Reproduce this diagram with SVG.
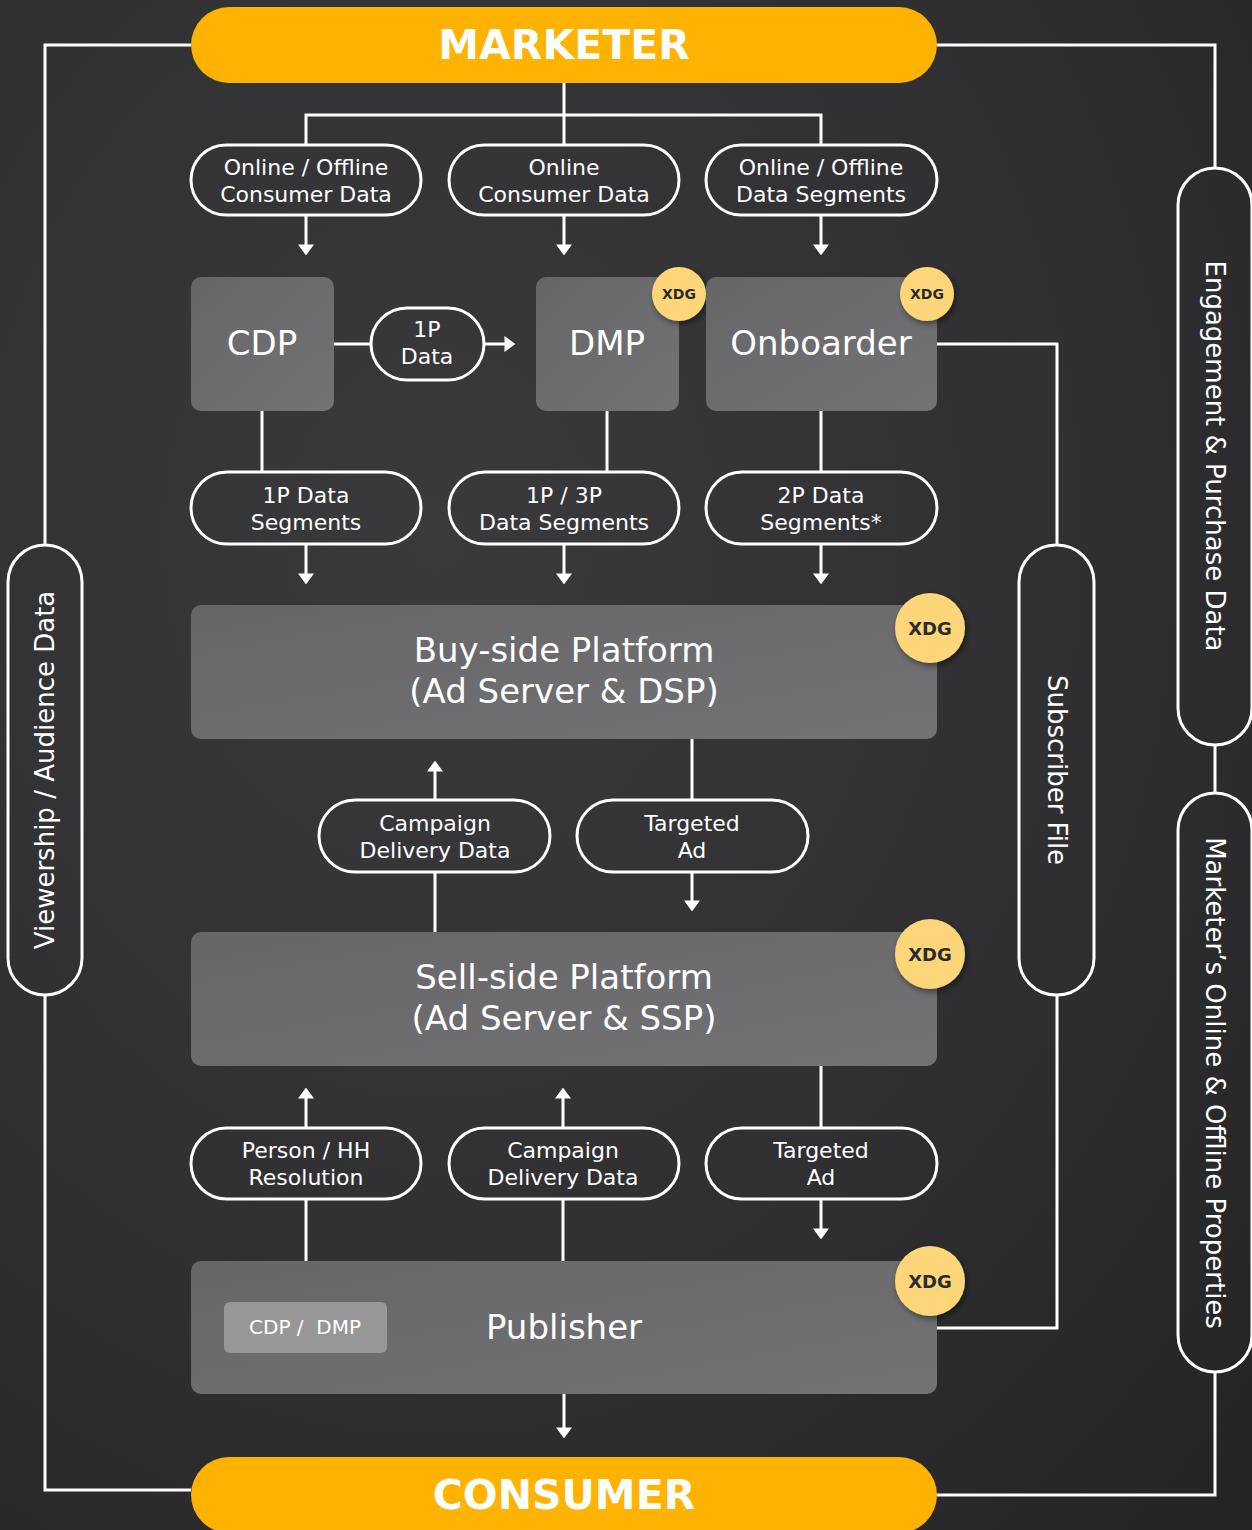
<svg xmlns="http://www.w3.org/2000/svg" width="1252" height="1530" viewBox="0 0 1252 1530">
<defs>
<radialGradient id="bg" cx="0.35" cy="0.35" r="0.9">
<stop offset="0" stop-color="#3a3a3c"/>
<stop offset="0.6" stop-color="#2f2f31"/>
<stop offset="1" stop-color="#242425"/>
</radialGradient>
<linearGradient id="box" x1="0" y1="0" x2="1" y2="1">
<stop offset="0" stop-color="#666668"/>
<stop offset="1" stop-color="#737375"/>
</linearGradient>
<filter id="sh" x="-30%" y="-30%" width="160%" height="160%">
<feDropShadow dx="2" dy="3" stdDeviation="3" flood-color="#000" flood-opacity="0.45"/>
</filter>
<marker id="ah" viewBox="0 0 10 10" refX="0.5" refY="5" markerWidth="11" markerHeight="16" markerUnits="userSpaceOnUse" orient="auto" preserveAspectRatio="none">
<path d="M0,0 L10,5 L0,10 z" fill="#ffffff"/>
</marker>
<style>
.ln{stroke:#ffffff;stroke-width:3;fill:none}
.ar{stroke:#ffffff;stroke-width:3;fill:none;marker-end:url(#ah)}
.pill{fill:none;stroke:#ffffff;stroke-width:3}
.box{fill:url(#box)}
.t{font-family:"DejaVu Sans","Liberation Sans",sans-serif;fill:#ffffff;text-anchor:middle}
.pt{font-size:22px}
.bt{font-size:34px}
.vt{font-size:26px}
.hd{font-family:"DejaVu Sans","Liberation Sans",sans-serif;font-weight:700;font-size:41px;fill:#ffffff;text-anchor:middle}
.xdg{fill:#fed67a;filter:url(#sh)}
.xt{font-family:"DejaVu Sans","Liberation Sans",sans-serif;font-weight:700;fill:#2b2b2b;text-anchor:middle}
.yl{fill:#feb201}
</style>
</defs>
<rect x="0" y="0" width="1252" height="1530" fill="url(#bg)"/>

<g id="connectors">
<path class="ln" d="M191,45 H45 V545"/>
<path class="ln" d="M45,995 V1490 H191"/>
<path class="ln" d="M937,45 H1215 V168"/>
<path class="ln" d="M1215,745 V793"/>
<path class="ln" d="M1215,1372 V1495 H937"/>
<path class="ln" d="M937,344 H1057 V545"/>
<path class="ln" d="M1057,995 V1328 H937"/>
<path class="ln" d="M564,83 V145"/>
<path class="ln" d="M306,145 V115 H821 V145"/>
<path class="ar" d="M306,215 V245"/>
<path class="ar" d="M564,215 V245"/>
<path class="ar" d="M821,215 V245"/>
<path class="ln" d="M334,344 H371"/>
<path class="ar" d="M484,344 H505"/>
<path class="ln" d="M262,411 V472"/>
<path class="ln" d="M607,411 V472"/>
<path class="ln" d="M821,411 V472"/>
<path class="ar" d="M306,544 V574"/>
<path class="ar" d="M564,544 V574"/>
<path class="ar" d="M821,544 V574"/>
<path class="ln" d="M435,932 V872"/>
<path class="ar" d="M435,800 V771"/>
<path class="ln" d="M692,739 V800"/>
<path class="ar" d="M692,872 V901"/>
<path class="ln" d="M306,1261 V1199"/>
<path class="ar" d="M306,1128 V1098"/>
<path class="ln" d="M563,1261 V1199"/>
<path class="ar" d="M563,1128 V1098"/>
<path class="ln" d="M821,1066 V1128"/>
<path class="ar" d="M821,1199 V1229"/>
<path class="ar" d="M564,1394 V1428"/>
</g>

<g id="marketer">
<rect class="yl" x="191" y="7" width="746" height="76" rx="38"/>
<text class="hd" x="564" y="59">MARKETER</text>
</g>
<g id="consumer">
<rect class="yl" x="191" y="1457" width="746" height="76" rx="38"/>
<text class="hd" x="564" y="1509">CONSUMER</text>
</g>

<g id="viewership">
<rect class="pill" x="8" y="545" width="74" height="450" rx="37"/>
<text class="t vt" transform="translate(54,770) rotate(-90)">Viewership / Audience Data</text>
</g>
<g id="engagement">
<rect class="pill" x="1178" y="168" width="74" height="577" rx="37"/>
<text class="t vt" transform="translate(1206,456) rotate(90)">Engagement &amp; Purchase Data</text>
</g>
<g id="properties">
<rect class="pill" x="1178" y="793" width="74" height="579" rx="37"/>
<text class="t vt" transform="translate(1206,1083) rotate(90)">Marketer’s Online &amp; Offline Properties</text>
</g>
<g id="subscriber">
<rect class="pill" x="1019" y="545" width="75" height="450" rx="37"/>
<text class="t vt" transform="translate(1048,770) rotate(90)">Subscriber File</text>
</g>

<g id="p-onoff-consumer">
<rect class="pill" x="191" y="145" width="230" height="70" rx="35"/>
<text class="t pt" x="306" y="175">Online / Offline</text>
<text class="t pt" x="306" y="202">Consumer Data</text>
</g>
<g id="p-online-consumer">
<rect class="pill" x="449" y="145" width="230" height="70" rx="35"/>
<text class="t pt" x="564" y="175">Online</text>
<text class="t pt" x="564" y="202">Consumer Data</text>
</g>
<g id="p-onoff-segments">
<rect class="pill" x="706" y="145" width="231" height="70" rx="35"/>
<text class="t pt" x="821" y="175">Online / Offline</text>
<text class="t pt" x="821" y="202">Data Segments</text>
</g>

<g id="cdp">
<rect class="box" x="191" y="277" width="143" height="134" rx="10"/>
<text class="t bt" x="262" y="355">CDP</text>
</g>
<g id="p-1p-data">
<rect class="pill" x="371" y="308" width="113" height="72" rx="36"/>
<text class="t pt" x="427" y="337">1P</text>
<text class="t pt" x="427" y="364">Data</text>
</g>
<g id="dmp">
<rect class="box" x="536" y="277" width="143" height="134" rx="10"/>
<text class="t bt" x="607" y="355">DMP</text>
<circle class="xdg" cx="679" cy="294" r="27"/>
<text class="xt" x="679" y="299" font-size="14">XDG</text>
</g>
<g id="onboarder">
<rect class="box" x="706" y="277" width="231" height="134" rx="10"/>
<text class="t bt" x="821" y="355">Onboarder</text>
<circle class="xdg" cx="927" cy="294" r="27"/>
<text class="xt" x="927" y="299" font-size="14">XDG</text>
</g>

<g id="p-1p-segments">
<rect class="pill" x="191" y="472" width="230" height="72" rx="36"/>
<text class="t pt" x="306" y="503">1P Data</text>
<text class="t pt" x="306" y="530">Segments</text>
</g>
<g id="p-1p3p-segments">
<rect class="pill" x="449" y="472" width="230" height="72" rx="36"/>
<text class="t pt" x="564" y="503">1P / 3P</text>
<text class="t pt" x="564" y="530">Data Segments</text>
</g>
<g id="p-2p-segments">
<rect class="pill" x="706" y="472" width="231" height="72" rx="36"/>
<text class="t pt" x="821" y="503">2P Data</text>
<text class="t pt" x="821" y="530">Segments*</text>
</g>

<g id="buyside">
<rect class="box" x="191" y="605" width="746" height="134" rx="10"/>
<text class="t bt" x="564" y="662">Buy-side Platform</text>
<text class="t bt" x="564" y="703">(Ad Server &amp; DSP)</text>
<circle class="xdg" cx="930" cy="628" r="35"/>
<text class="xt" x="930" y="635" font-size="18">XDG</text>
</g>

<g id="p-campaign-1">
<rect class="pill" x="319" y="800" width="231" height="72" rx="36"/>
<text class="t pt" x="435" y="831">Campaign</text>
<text class="t pt" x="435" y="858">Delivery Data</text>
</g>
<g id="p-targeted-1">
<rect class="pill" x="577" y="800" width="231" height="72" rx="36"/>
<text class="t pt" x="692" y="831">Targeted</text>
<text class="t pt" x="692" y="858">Ad</text>
</g>

<g id="sellside">
<rect class="box" x="191" y="932" width="746" height="134" rx="10"/>
<text class="t bt" x="564" y="989">Sell-side Platform</text>
<text class="t bt" x="564" y="1030">(Ad Server &amp; SSP)</text>
<circle class="xdg" cx="930" cy="954" r="35"/>
<text class="xt" x="930" y="961" font-size="18">XDG</text>
</g>

<g id="p-person">
<rect class="pill" x="191" y="1128" width="230" height="71" rx="35.5"/>
<text class="t pt" x="306" y="1158">Person / HH</text>
<text class="t pt" x="306" y="1185">Resolution</text>
</g>
<g id="p-campaign-2">
<rect class="pill" x="449" y="1128" width="230" height="71" rx="35.5"/>
<text class="t pt" x="563" y="1158">Campaign</text>
<text class="t pt" x="563" y="1185">Delivery Data</text>
</g>
<g id="p-targeted-2">
<rect class="pill" x="706" y="1128" width="231" height="71" rx="35.5"/>
<text class="t pt" x="821" y="1158">Targeted</text>
<text class="t pt" x="821" y="1185">Ad</text>
</g>

<g id="publisher">
<rect class="box" x="191" y="1261" width="746" height="133" rx="10"/>
<rect x="224" y="1302" width="163" height="51" rx="6" fill="#979799"/>
<text class="t" x="305" y="1334" font-size="20" fill="#e8e8e8" xml:space="preserve">CDP /  DMP</text>
<text class="t bt" x="564" y="1339">Publisher</text>
<circle class="xdg" cx="930" cy="1281" r="35"/>
<text class="xt" x="930" y="1288" font-size="18">XDG</text>
</g>
</svg>
